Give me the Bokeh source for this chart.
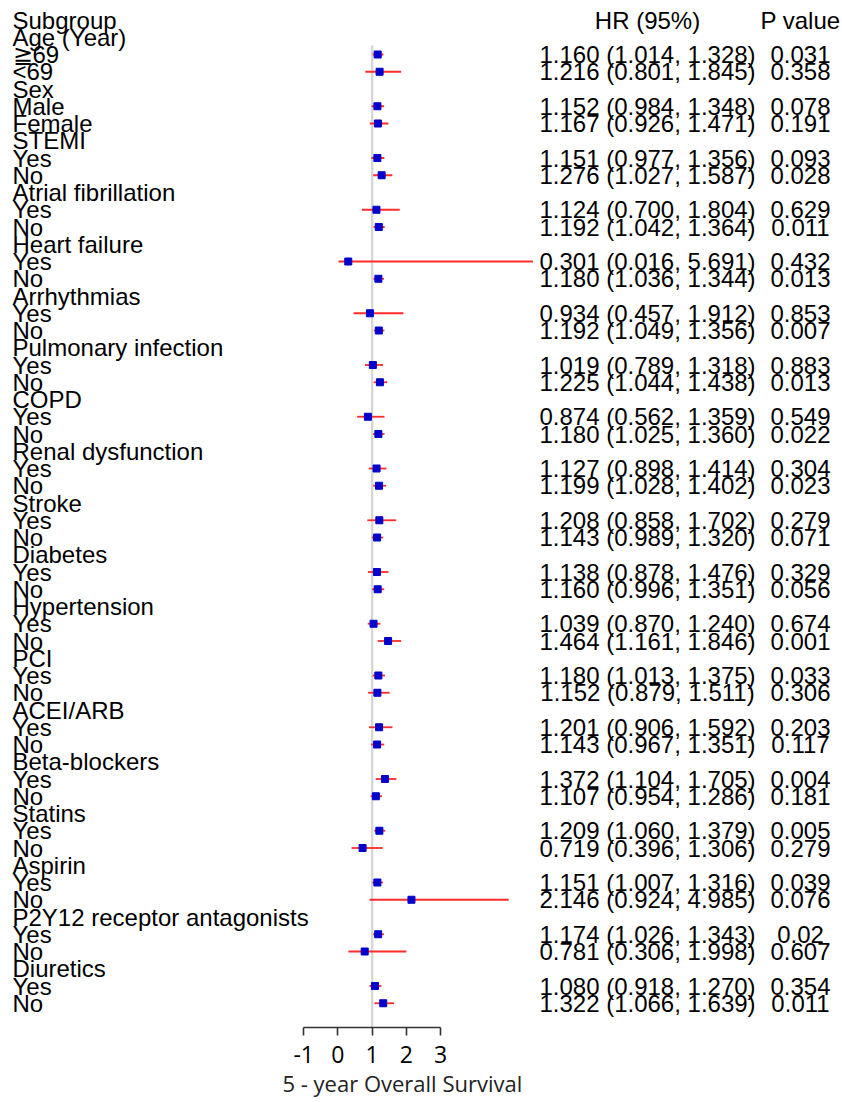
from bokeh.plotting import figure
from bokeh.models import Range1d, FixedTicker, Title, ColumnDataSource
from bokeh.core.properties import value
from bokeh.embed import file_html
from bokeh.resources import INLINE

# ---------------- data ----------------
groups = ["Age (Year)", "Sex", "STEMI", "Atrial fibrillation", "Heart failure",
          "Arrhythmias", "Pulmonary infection", "COPD", "Renal dysfunction", "Stroke",
          "Diabetes", "Hypertension", "PCI", "ACEI/ARB", "Beta-blockers", "Statins",
          "Aspirin", "P2Y12 receptor antagonists", "Diuretics"]
levels = [["≧69", "<69"], ["Male", "Female"]] + [["Yes", "No"]] * 17

hr = [1.160, 1.216, 1.152, 1.167, 1.151, 1.276, 1.124, 1.192, 0.301, 1.180,
      0.934, 1.192, 1.019, 1.225, 0.874, 1.180, 1.127, 1.199, 1.208, 1.143,
      1.138, 1.160, 1.039, 1.464, 1.180, 1.152, 1.201, 1.143, 1.372, 1.107,
      1.209, 0.719, 1.151, 2.146, 1.174, 0.781, 1.080, 1.322]
lo = [1.014, 0.801, 0.984, 0.926, 0.977, 1.027, 0.700, 1.042, 0.016, 1.036,
      0.457, 1.049, 0.789, 1.044, 0.562, 1.025, 0.898, 1.028, 0.858, 0.989,
      0.878, 0.996, 0.870, 1.161, 1.013, 0.879, 0.906, 0.967, 1.104, 0.954,
      1.060, 0.396, 1.007, 0.924, 1.026, 0.306, 0.918, 1.066]
hi = [1.328, 1.845, 1.348, 1.471, 1.356, 1.587, 1.804, 1.364, 5.691, 1.344,
      1.912, 1.356, 1.318, 1.438, 1.359, 1.360, 1.414, 1.402, 1.702, 1.320,
      1.476, 1.351, 1.240, 1.846, 1.375, 1.511, 1.592, 1.351, 1.705, 1.286,
      1.379, 1.306, 1.316, 4.985, 1.343, 1.998, 1.270, 1.639]
pval = ["0.031", "0.358", "0.078", "0.191", "0.093", "0.028", "0.629", "0.011",
        "0.432", "0.013", "0.853", "0.007", "0.883", "0.013", "0.549", "0.022",
        "0.304", "0.023", "0.279", "0.071", "0.329", "0.056", "0.674", "0.001",
        "0.033", "0.306", "0.203", "0.117", "0.004", "0.181", "0.005", "0.279",
        "0.039", "0.076", "0.02", "0.607", "0.354", "0.011"]
x_ticks = [-1, 0, 1, 2, 3]
header = ["Subgroup", "HR (95%)", "P value"]
axis_title = "5 - year Overall Survival"

# ---------------- layout helpers ----------------
W, H = 842, 1100
PX_PER_UNIT = 34.25     # pixels per HR unit
X_ONE = 371.7           # frame x (px) where HR = 1
ROW0 = 19.5             # frame y (px) of row 0
ROW_H = 17.25           # px per row
FRAME_H = 1027


def xd(px):
    return 1 + (px - X_ONE) / PX_PER_UNIT


label_rows, label_text = [0], [header[0]]
d_rows = []
for k, g in enumerate(groups):
    label_rows.append(3 * k + 1)
    label_text.append(g)
    for j, lv in enumerate(levels[k]):
        r = 3 * k + 2 + j
        label_rows.append(r)
        label_text.append(lv)
        d_rows.append(r)

hr_text = [f"{a:.3f} ({b:.3f}, {c:.3f})" for a, b, c in zip(hr, lo, hi)]

y_bottom = (FRAME_H - ROW0) / ROW_H
p = figure(width=W, height=H, output_backend="svg", toolbar_location=None,
           x_range=Range1d(xd(0), xd(W)),
           y_range=Range1d(y_bottom, -ROW0 / ROW_H),
           y_axis_location=None,
           min_border_left=0, min_border_right=0, min_border_top=0,
           min_border_bottom=H - FRAME_H)
p.grid.visible = False
p.outline_line_color = None
p.background_fill_color = "white"
p.border_fill_color = "white"

FONT = value("Liberation Sans")
FS = "24px"

# reference line at HR = 1
p.segment(x0=[1], y0=[1.48], x1=[1], y1=[y_bottom],
          line_color="#d4d4d4", line_width=2.2)

src = ColumnDataSource(dict(row=d_rows, hr=hr, lo=lo, hi=hi,
                            hrt=hr_text, pv=pval))
p.segment(x0="lo", y0="row", x1="hi", y1="row", source=src,
          line_color="#ff2a2a", line_width=1.8)
p.scatter(x="hr", y="row", source=src, marker="square", size=7,
          fill_color="#0000cc", line_color="#0000cc")

# left labels
p.text(x=[xd(12)] * len(label_rows), y=label_rows, text=label_text,
       text_font=FONT, text_font_size=FS, text_color="black",
       text_align="left", text_baseline="middle")

# right columns
HR_C, P_C = 647, 800
p.text(x=[xd(HR_C), xd(P_C)], y=[0, 0], text=header[1:],
       text_font=FONT, text_font_size=FS, text_color="black",
       text_align="center", text_baseline="middle")
p.text(x=xd(HR_C), y="row", text="hrt", source=src,
       text_font=FONT, text_font_size=FS, text_color="black",
       text_align="center", text_baseline="middle")
p.text(x=xd(P_C), y="row", text="pv", source=src,
       text_font=FONT, text_font_size=FS, text_color="black",
       text_align="center", text_baseline="middle")

# x axis
ax = p.xaxis[0]
ax.ticker = FixedTicker(ticks=x_ticks)
ax.bounds = (x_ticks[0], x_ticks[-1])
ax.major_label_overrides = {t: str(t) for t in x_ticks}
ax.axis_line_color = "#333333"
ax.axis_line_width = 1.6
ax.major_tick_line_color = "#333333"
ax.major_tick_line_width = 1.6
ax.major_tick_out = 8
ax.major_tick_in = 0
ax.minor_tick_line_color = None
ax.major_label_text_font = "Open Sans"
ax.major_label_text_font_size = "23px"
ax.major_label_text_color = "black"
ax.major_label_standoff = 10

p.add_layout(Title(text=axis_title, align="left", offset=282, standoff=0,
                   text_font="Open Sans", text_font_size="22px",
                   text_font_style="normal", text_color="#222222"), "below")

open("out.html", "w").write(file_html(p, INLINE))
